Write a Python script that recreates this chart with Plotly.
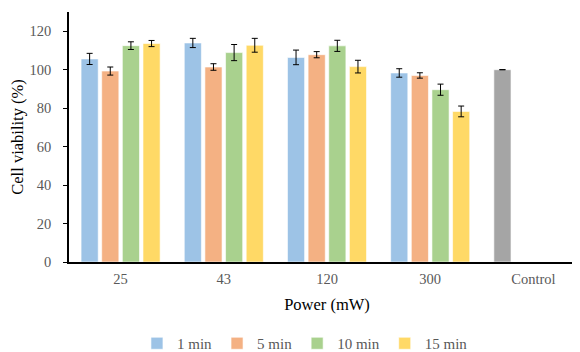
import plotly.graph_objects as go

categories = ["25", "43", "120", "300", "Control"]
series_names = ["1 min", "5 min", "10 min", "15 min"]
v1 = [105.6, 113.9, 106.4, 98.3, 100.0]
e1 = [2.9, 2.4, 3.8, 2.2, 0.0]
v5 = [99.3, 101.4, 107.8, 97.0, None]
e5 = [2.1, 1.7, 1.6, 1.4, None]
v10 = [112.5, 108.9, 112.4, 89.6, None]
e10 = [2.0, 4.2, 2.9, 2.9, None]
v15 = [113.6, 112.7, 101.6, 78.3, None]
e15 = [1.6, 3.6, 3.3, 2.8, None]
colors = ["#9DC3E6", "#F4B183", "#A9D18E", "#FFD966"]
control_color = "#A5A5A5"

font = "Liberation Serif"
fig = go.Figure()
vals = [v1, v5, v10, v15]
errs = [e1, e5, e10, e15]
for i, (name, v, e, c) in enumerate(zip(series_names, vals, errs, colors)):
    mc = [c] * len(categories)
    if i == 0:
        mc[-1] = control_color
    fig.add_trace(go.Bar(
        x=categories, y=v, name=name,
        marker=dict(color=mc, line=dict(color="rgba(255,255,255,0.6)", width=1)),
        error_y=dict(type="data", array=e, visible=True, color="#000000", thickness=1, width=3),
    ))

fig.update_layout(
    width=580, height=352,
    margin=dict(l=61, r=3, t=4, b=98),
    paper_bgcolor="white", plot_bgcolor="white",
    barmode="group", bargap=0.2, bargroupgap=0.17,
    font=dict(family=font, size=14.5, color="#595959"),
    showlegend=True,
    legend=dict(orientation="h", xref="container", yref="container",
                x=0.512, xanchor="center", y=0.0, yanchor="bottom",
                font=dict(family=font, size=15, color="#595959"),
                itemwidth=30, tracegroupgap=0),
    xaxis=dict(showline=True, linecolor="#000000", linewidth=1.5, ticks="", automargin=False,
               ticklabelstandoff=3,
               tickfont=dict(family=font, size=14.5, color="#595959"),
               title=dict(text="Power (mW)", font=dict(family=font, size=16.5, color="#000000"), standoff=12)),
    yaxis=dict(range=[0, 130], tickvals=[0, 20, 40, 60, 80, 100, 120], showgrid=False, zeroline=False,
               showline=True, linecolor="#000000", linewidth=1.5, ticks="outside", ticklen=4,
               tickcolor="#000000", automargin=False, ticklabelstandoff=9,
               tickfont=dict(family=font, size=14.5, color="#595959"),
               title=dict(text="Cell viability (%)", font=dict(family=font, size=16.5, color="#000000"), standoff=3)),
)

fig.write_html("out.html")
